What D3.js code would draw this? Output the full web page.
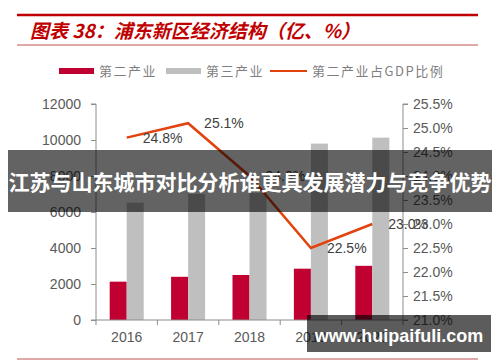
<!DOCTYPE html>
<meta charset="utf-8">
<style>
  body { margin: 0; background: #fff; }
  svg { display: block; font-family: "Liberation Sans", Arial, sans-serif; }
  .axis path, .axis line { stroke: #8c8c8c; }
  .axis text { fill: #595959; font-size: 14px; font-family: "Liberation Sans", Arial, sans-serif; }
  .legend text { fill: #7f7f7f; font-size: 13px; font-family: "Noto Sans CJK SC", sans-serif; letter-spacing: 1.5px; }
</style>
<body>
<script src="https://d3js.org/d3.v7.min.js"></script>
<script>
// data
var years = ["2016", "2017", "2018", "2019", "2020"];
var secondary = [2130, 2400, 2500, 2850, 3010];      // 第二产业 (亿)
var tertiary = [6520, 7000, 7050, 9800, 10130];      // 第三产业 (亿)
var share = [24.8, 25.1, 24.0, 22.5, 23.0];          // 第二产业占GDP比例 (%)
var seriesNames = ["第二产业", "第三产业", "第二产业占GDP比例"];

var W = 500, H = 362;
// plot area edges (not "top": that name is taken by window.top)
var pLeft = 96, pRight = 403, pTop = 104, pBottom = 320;

var svg = d3.select("body").append("svg")
    .attr("width", W)
    .attr("height", H);

// header lines + title
svg.append("line").attr("x1", 17).attr("x2", 478).attr("y1", 15).attr("y2", 15)
    .attr("stroke", "#c00000").attr("stroke-width", 2.5);
svg.append("line").attr("x1", 17).attr("x2", 478).attr("y1", 45).attr("y2", 45)
    .attr("stroke", "#c0504d").attr("stroke-width", 1);
svg.append("line").attr("x1", 17).attr("x2", 478).attr("y1", 359).attr("y2", 359)
    .attr("stroke", "#c0504d").attr("stroke-width", 1);

svg.append("text")
    .attr("x", 30).attr("y", 38)
    .style("font-family", "'Noto Sans CJK SC', sans-serif")
    .style("font-size", "19px")
    .style("font-weight", "bold")
    .style("font-style", "italic")
    .style("fill", "#c00000")
    .text("图表 38：浦东新区经济结构（亿、%）");

// scales
var x0 = d3.scaleBand().domain(years).range([pLeft, pRight])
    .paddingInner(0.446).paddingOuter(0.223);
var x1 = d3.scaleBand().domain([0, 1]).range([0, x0.bandwidth()]);
var y = d3.scaleLinear().domain([0, 12000]).range([pBottom, pTop]);
var y2 = d3.scaleLinear().domain([21, 25.5]).range([pBottom, pTop]);

// bars
var colors = ["#c00030", "#bfbfbf"];
[secondary, tertiary].forEach(function(vals, s) {
  svg.append("g").selectAll("rect")
    .data(vals)
    .enter().append("rect")
    .attr("x", function(d, i) { return x0(years[i]) + x1(s); })
    .attr("y", function(d) { return y(d); })
    .attr("width", x1.bandwidth())
    .attr("height", function(d) { return pBottom - y(d); })
    .attr("fill", colors[s]);
});

// axes
svg.append("g").attr("class", "axis")
    .attr("transform", "translate(" + pLeft + ",0)")
    .call(d3.axisLeft(y).tickValues(d3.range(0, 12001, 2000)).tickSize(5).tickPadding(10).tickFormat(d3.format("d")))
    .call(function(g) { g.select(".domain").attr("d", "M-5," + pTop + "H0V" + pBottom + "H-5"); });

svg.append("g").attr("class", "axis")
    .attr("transform", "translate(" + pRight + ",0)")
    .call(d3.axisRight(y2).tickValues(d3.range(21, 25.51, 0.5)).tickSize(5).tickPadding(5)
      .tickFormat(function(d) { return d.toFixed(1) + "%"; }))
    .call(function(g) { g.select(".domain").attr("d", "M5," + pTop + "H0V" + pBottom + "H5"); });

var xAxis = svg.append("g").attr("class", "axis")
    .attr("transform", "translate(0," + pBottom + ")")
    .call(d3.axisBottom(x0).tickSize(0).tickPadding(12));
xAxis.select(".domain").attr("d", "M" + pLeft + ",0H" + pRight);
var bounds = years.map(function(d) { return x0(d) - x0.step() * x0.paddingInner() / 2; }).concat([pRight]);
xAxis.selectAll(".bound").data(bounds).enter().append("line")
    .attr("class", "bound")
    .attr("x1", function(d) { return d; }).attr("x2", function(d) { return d; })
    .attr("y1", 0).attr("y2", 5);

// line on right axis
var lineGen = d3.line()
    .x(function(d, i) { return x0(years[i]) + x0.bandwidth() / 2; })
    .y(function(d) { return y2(d); });
svg.append("path")
    .datum(share)
    .attr("d", lineGen)
    .attr("fill", "none")
    .attr("stroke", "#e2420e")
    .attr("stroke-width", 2.5);

svg.append("g").selectAll("text")
    .data(share)
    .enter().append("text")
    .attr("x", function(d, i) { return x0(years[i]) + x0.bandwidth() / 2 + 16; })
    .attr("y", function(d) { return y2(d) + 5; })
    .style("font-size", "14px")
    .style("fill", "#404040")
    .text(function(d) { return d.toFixed(1) + "%"; });

// legend
var legend = svg.append("g").attr("class", "legend");
var lx = [59, 166, 270];
var tx = [99, 206, 312];
legend.append("rect").attr("x", lx[0]).attr("y", 68).attr("width", 35).attr("height", 6).attr("fill", colors[0]);
legend.append("rect").attr("x", lx[1]).attr("y", 68).attr("width", 35).attr("height", 6).attr("fill", colors[1]);
legend.append("line").attr("x1", lx[2]).attr("x2", lx[2] + 37).attr("y1", 71).attr("y2", 71)
    .attr("stroke", "#e2420e").attr("stroke-width", 2);
legend.selectAll("text").data(seriesNames).enter().append("text")
    .attr("x", function(d, i) { return tx[i]; })
    .attr("y", 76)
    .text(function(d) { return d; });

// overlay banner
svg.append("rect").attr("x", 8).attr("y", 150).attr("width", 484).attr("height", 62)
    .attr("fill", "rgba(0,0,0,0.61)");
svg.append("text")
    .attr("x", 250).attr("y", 190)
    .attr("text-anchor", "middle")
    .style("font-family", "'Noto Sans CJK SC', sans-serif")
    .style("font-size", "21px")
    .style("font-weight", "bold")
    .style("fill", "#fff")
    .text("江苏与山东城市对比分析谁更具发展潜力与竞争优势");

// watermark
svg.append("rect").attr("x", 307).attr("y", 315).attr("width", 184).attr("height", 37)
    .attr("fill", "rgba(0,0,0,0.64)");
svg.append("text")
    .attr("x", 399).attr("y", 342)
    .attr("text-anchor", "middle")
    .style("font-family", "'Liberation Sans', Arial, sans-serif")
    .style("font-size", "18px")
    .style("font-weight", "bold")
    .style("fill", "#fff")
    .text("www.huipaifuli.com");
</script>
</body>
